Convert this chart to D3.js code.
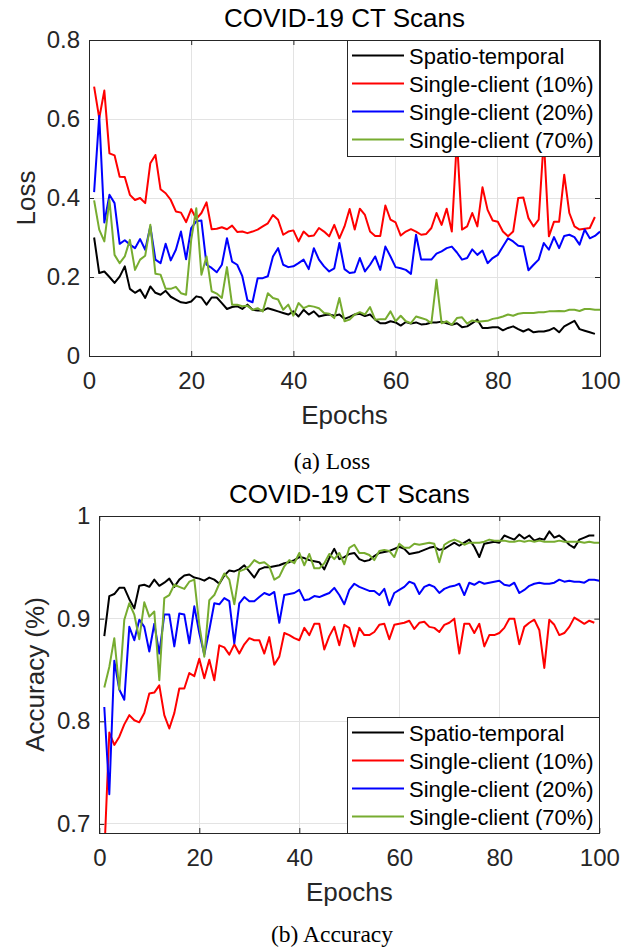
<!DOCTYPE html>
<html>
<head>
<meta charset="utf-8">
<script src="https://cdn.jsdelivr.net/npm/d3@7"></script>
<style>
  body { margin: 0; background: #fff; }
  svg text { font-family: "Liberation Sans", Arial, Helvetica, sans-serif; }
  .caption { font-family: "Liberation Serif", "Times New Roman", serif; }
</style>
</head>
<body>
<svg id="fig" width="633" height="951"></svg>
<script>
// ---- data ----
var names = ['Spatio-temporal', 'Single-client (10%)', 'Single-client (20%)', 'Single-client (70%)'];
var colors = ['#000000', '#ff0000', '#0000ff', '#77ac30'];
var xTicks = [0, 20, 40, 60, 80, 100];
var lossTicks = [0, 0.2, 0.4, 0.6, 0.8];
var accTicks = [0.7, 0.8, 0.9, 1];

// loss, epochs 1..n
var lossST = [0.300,0.210,0.214,0.200,0.185,0.201,0.227,0.170,0.160,0.168,
  0.147,0.176,0.160,0.155,0.165,0.150,0.143,0.136,0.134,0.138,
  0.151,0.148,0.130,0.148,0.148,0.134,0.119,0.124,0.126,0.119,
  0.130,0.117,0.115,0.115,0.121,0.117,0.113,0.109,0.105,0.113,
  0.100,0.117,0.105,0.113,0.100,0.103,0.105,0.102,0.105,0.094,
  0.099,0.105,0.107,0.101,0.105,0.092,0.083,0.083,0.088,0.085,
  0.077,0.086,0.082,0.085,0.080,0.081,0.085,0.085,0.087,0.083,
  0.079,0.083,0.073,0.075,0.083,0.092,0.071,0.071,0.073,0.073,
  0.065,0.071,0.075,0.068,0.062,0.068,0.060,0.062,0.062,0.065,
  0.071,0.060,0.075,0.082,0.089,0.068,0.064,0.060,0.056];
var loss10 = [0.682,0.602,0.672,0.513,0.508,0.454,0.453,0.408,0.395,0.400,
  0.387,0.488,0.509,0.422,0.412,0.395,0.366,0.363,0.339,0.372,
  0.347,0.362,0.389,0.321,0.322,0.326,0.321,0.330,0.314,0.315,
  0.311,0.315,0.320,0.328,0.336,0.357,0.345,0.307,0.315,0.318,
  0.290,0.315,0.303,0.305,0.324,0.315,0.303,0.332,0.298,0.328,
  0.372,0.320,0.373,0.357,0.315,0.304,0.304,0.381,0.345,0.338,
  0.305,0.315,0.321,0.315,0.307,0.309,0.324,0.362,0.332,0.373,
  0.315,0.550,0.320,0.328,0.362,0.328,0.427,0.370,0.343,0.340,
  0.315,0.303,0.315,0.400,0.401,0.349,0.328,0.345,0.550,0.303,
  0.340,0.340,0.459,0.362,0.328,0.320,0.322,0.324,0.352];
var loss20 = [0.415,0.608,0.338,0.408,0.387,0.284,0.293,0.282,0.273,0.296,
  0.269,0.328,0.244,0.235,0.284,0.242,0.269,0.315,0.245,0.324,
  0.341,0.343,0.231,0.223,0.212,0.231,0.298,0.239,0.231,0.202,
  0.141,0.136,0.197,0.197,0.202,0.252,0.273,0.231,0.225,0.227,
  0.235,0.244,0.220,0.273,0.244,0.227,0.214,0.222,0.286,0.220,
  0.210,0.212,0.248,0.214,0.231,0.252,0.218,0.277,0.252,0.225,
  0.222,0.218,0.208,0.307,0.244,0.244,0.244,0.259,0.265,0.273,
  0.277,0.262,0.244,0.248,0.270,0.256,0.267,0.235,0.248,0.256,
  0.277,0.298,0.290,0.279,0.277,0.217,0.231,0.244,0.286,0.269,
  0.301,0.273,0.304,0.307,0.301,0.282,0.320,0.298,0.304,0.315];
var loss70 = [0.394,0.320,0.290,0.395,0.256,0.235,0.252,0.294,0.218,0.244,
  0.254,0.332,0.208,0.206,0.170,0.170,0.175,0.159,0.155,0.294,
  0.374,0.206,0.252,0.164,0.158,0.147,0.225,0.130,0.130,0.126,
  0.127,0.117,0.121,0.113,0.159,0.147,0.143,0.117,0.130,0.102,
  0.134,0.121,0.127,0.125,0.121,0.109,0.107,0.096,0.147,0.088,
  0.092,0.105,0.111,0.105,0.124,0.092,0.093,0.093,0.113,0.088,
  0.102,0.088,0.083,0.100,0.096,0.092,0.083,0.193,0.083,0.088,
  0.079,0.096,0.098,0.082,0.090,0.087,0.088,0.089,0.094,0.096,
  0.100,0.105,0.102,0.107,0.109,0.109,0.109,0.111,0.111,0.113,
  0.113,0.114,0.113,0.117,0.117,0.114,0.119,0.119,0.117,0.117];

// accuracy, epochs 1..n
var accST = [0.883,0.922,0.924,0.930,0.930,0.919,0.910,0.932,0.933,0.931,
  0.938,0.932,0.935,0.939,0.931,0.938,0.942,0.943,0.940,0.939,
  0.937,0.940,0.938,0.934,0.942,0.947,0.946,0.948,0.952,0.946,
  0.940,0.948,0.950,0.950,0.951,0.952,0.954,0.955,0.957,0.960,
  0.959,0.957,0.956,0.955,0.948,0.959,0.968,0.958,0.960,0.963,
  0.964,0.958,0.956,0.957,0.961,0.964,0.965,0.966,0.968,0.970,
  0.968,0.963,0.964,0.965,0.967,0.969,0.970,0.967,0.968,0.971,
  0.974,0.971,0.974,0.977,0.970,0.960,0.973,0.974,0.975,0.974,
  0.981,0.979,0.977,0.982,0.978,0.981,0.976,0.978,0.977,0.985,
  0.979,0.981,0.977,0.972,0.969,0.977,0.979,0.981,0.981];
var acc10 = [0.670,0.789,0.777,0.785,0.797,0.806,0.801,0.799,0.808,0.827,
  0.828,0.835,0.806,0.793,0.808,0.832,0.832,0.847,0.844,0.861,
  0.842,0.860,0.840,0.874,0.872,0.865,0.875,0.866,0.875,0.881,
  0.879,0.879,0.866,0.882,0.855,0.863,0.886,0.884,0.881,0.879,
  0.891,0.884,0.895,0.895,0.870,0.883,0.892,0.874,0.894,0.891,
  0.873,0.891,0.884,0.884,0.887,0.894,0.895,0.880,0.894,0.895,
  0.896,0.898,0.890,0.896,0.897,0.892,0.891,0.887,0.894,0.896,
  0.900,0.866,0.895,0.895,0.886,0.895,0.873,0.884,0.884,0.886,
  0.891,0.900,0.900,0.875,0.892,0.896,0.899,0.889,0.852,0.899,
  0.894,0.884,0.886,0.892,0.901,0.898,0.895,0.898,0.896];
var acc20 = [0.814,0.729,0.859,0.831,0.821,0.892,0.879,0.899,0.892,0.868,
  0.895,0.866,0.904,0.904,0.873,0.905,0.904,0.876,0.912,0.886,
  0.865,0.889,0.915,0.914,0.920,0.917,0.876,0.915,0.921,0.917,
  0.917,0.921,0.925,0.923,0.926,0.896,0.923,0.924,0.925,0.928,
  0.918,0.919,0.922,0.921,0.923,0.925,0.930,0.923,0.914,0.928,
  0.934,0.931,0.929,0.927,0.927,0.923,0.929,0.913,0.925,0.928,
  0.931,0.936,0.934,0.924,0.931,0.933,0.931,0.925,0.929,0.931,
  0.932,0.934,0.923,0.935,0.933,0.936,0.934,0.935,0.936,0.937,
  0.933,0.932,0.935,0.925,0.928,0.932,0.934,0.935,0.934,0.934,
  0.935,0.938,0.936,0.937,0.936,0.936,0.935,0.938,0.938,0.937];
var acc70 = [0.833,0.853,0.881,0.831,0.899,0.915,0.904,0.880,0.916,0.902,
  0.907,0.840,0.920,0.923,0.933,0.931,0.929,0.936,0.938,0.894,
  0.863,0.918,0.923,0.934,0.944,0.938,0.914,0.946,0.948,0.951,
  0.957,0.954,0.955,0.951,0.938,0.941,0.951,0.957,0.954,0.964,
  0.952,0.963,0.949,0.949,0.954,0.963,0.958,0.964,0.953,0.969,
  0.972,0.964,0.964,0.962,0.957,0.966,0.967,0.966,0.960,0.973,
  0.969,0.969,0.973,0.972,0.973,0.974,0.973,0.955,0.972,0.975,
  0.977,0.975,0.972,0.974,0.974,0.974,0.975,0.977,0.976,0.976,
  0.976,0.975,0.975,0.976,0.975,0.976,0.975,0.976,0.975,0.975,
  0.975,0.976,0.975,0.975,0.975,0.975,0.974,0.975,0.974,0.974];

var svg = d3.select('#fig');
var ink = '#262626';

var panels = [
  { id: 'a', left: 89, right: 600, top: 40, bottom: 356, yDomain: [0, 0.8], yTicks: lossTicks,
    yLabel: 'Loss', yLabelX: 35, captionText: '(a) Loss', captionY: 469, legendY: 40,
    series: [lossST, loss10, loss20, loss70] },
  { id: 'b', left: 99.3, right: 599.3, top: 516, bottom: 833, yDomain: [0.6912, 1], yTicks: accTicks,
    yLabel: 'Accuracy (%)', yLabelX: 44, captionText: '(b) Accuracy', captionY: 942, legendY: 717,
    series: [accST, acc10, acc20, acc70] }
];

panels.forEach(drawPanel);

function drawPanel(p) {
  var x = d3.scaleLinear().domain([0, 100]).range([p.left, p.right]);
  var y = d3.scaleLinear().domain(p.yDomain).range([p.bottom, p.top]);
  var g = svg.append('g');

  // grid
  g.selectAll('.gx').data(xTicks.slice(1, -1)).enter().append('line')
    .attr('x1', x).attr('x2', x).attr('y1', p.top).attr('y2', p.bottom)
    .attr('stroke', '#e3e3e3').attr('shape-rendering', 'crispEdges');
  g.selectAll('.gy').data(p.yTicks.filter(function(t) { return y(t) > p.top + 1 && y(t) < p.bottom - 1; }))
    .enter().append('line')
    .attr('x1', p.left).attr('x2', p.right).attr('y1', y).attr('y2', y)
    .attr('stroke', '#e3e3e3').attr('shape-rendering', 'crispEdges');

  svg.append('clipPath').attr('id', 'clip' + p.id).append('rect')
    .attr('x', p.left).attr('y', p.top).attr('width', p.right - p.left).attr('height', p.bottom - p.top);

  var line = d3.line()
    .x(function(d, i) { return x(i + 1); })
    .y(function(d) { return y(d); });

  g.append('g').attr('clip-path', 'url(#clip' + p.id + ')')
    .selectAll('path').data(p.series).enter().append('path')
    .attr('d', line)
    .attr('fill', 'none')
    .attr('stroke', function(d, i) { return colors[i]; })
    .attr('stroke-width', 2)
    .attr('stroke-linejoin', 'round');

  // axes (ticks inside on all four sides)
  var ax = [
    g.append('g').attr('transform', 'translate(0,' + p.bottom + ')')
      .call(d3.axisBottom(x).tickValues(xTicks).tickSize(-5).tickPadding(16)),
    g.append('g').attr('transform', 'translate(0,' + p.top + ')')
      .call(d3.axisTop(x).tickValues(xTicks).tickSize(-5).tickFormat('')),
    g.append('g').attr('transform', 'translate(' + p.left + ',0)')
      .call(d3.axisLeft(y).tickValues(p.yTicks).tickSize(-5).tickPadding(9).tickFormat(function(d) { return String(d); })),
    g.append('g').attr('transform', 'translate(' + p.right + ',0)')
      .call(d3.axisRight(y).tickValues(p.yTicks).tickSize(-5).tickFormat(''))
  ];
  ax.forEach(function(a) {
    a.select('.domain').remove();
    a.attr('font-family', null).attr('font-size', 24);
    a.selectAll('line').attr('stroke', ink);
    a.selectAll('text').attr('fill', ink);
  });

  g.append('rect')
    .attr('x', p.left).attr('y', p.top).attr('width', p.right - p.left).attr('height', p.bottom - p.top)
    .attr('fill', 'none').attr('stroke', ink).attr('shape-rendering', 'crispEdges');

  var cx = (p.left + p.right) / 2;

  g.append('text').attr('x', cx).attr('y', p.top - 13)
    .attr('text-anchor', 'middle').attr('font-size', 26).attr('fill', '#000')
    .text('COVID-19 CT Scans');

  g.append('text').attr('x', cx).attr('y', p.bottom + 68)
    .attr('text-anchor', 'middle').attr('font-size', 26).attr('fill', ink)
    .text('Epochs');

  g.append('text')
    .attr('transform', 'translate(' + p.yLabelX + ',' + ((p.top + p.bottom) / 2) + ') rotate(-90)')
    .attr('text-anchor', 'middle').attr('font-size', 26).attr('fill', ink)
    .text(p.yLabel);

  g.append('text').attr('class', 'caption').attr('x', 332).attr('y', p.captionY)
    .attr('text-anchor', 'middle').attr('font-size', 23.5).attr('fill', '#000')
    .text(p.captionText);

  // legend
  var lg = g.append('g').attr('transform', 'translate(347,' + p.legendY + ')');
  lg.append('rect').attr('width', 252).attr('height', 116)
    .attr('fill', '#fff').attr('stroke', ink).attr('shape-rendering', 'crispEdges');
  var row = lg.selectAll('.row').data(names).enter().append('g')
    .attr('transform', function(d, i) { return 'translate(0,' + (15.5 + i * 28) + ')'; });
  row.append('line').attr('x1', 5).attr('x2', 57)
    .attr('stroke', function(d, i) { return colors[i]; }).attr('stroke-width', 2);
  row.append('text').attr('x', 62).attr('y', 8).attr('font-size', 22).attr('fill', '#000')
    .text(function(d) { return d; });
}
</script>
</body>
</html>
